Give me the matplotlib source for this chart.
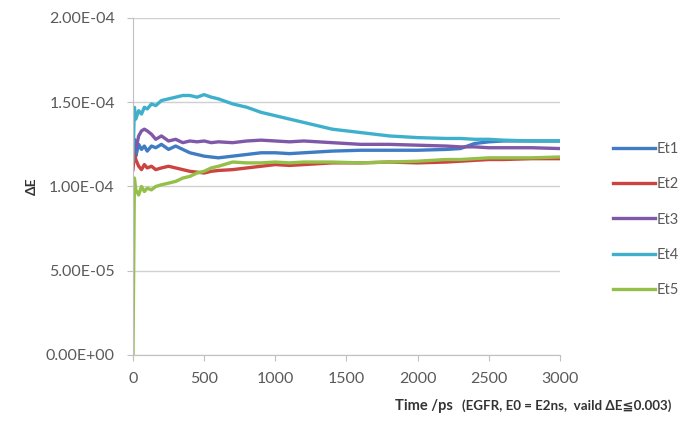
import matplotlib
matplotlib.use("Agg")
import matplotlib.pyplot as plt
from matplotlib.ticker import FuncFormatter

plt.rcParams['font.family'] = ['Lato', 'DejaVu Sans', 'Noto Sans CJK JP']

# time axis (ps) and the five energy-difference series (units of 1e-4)
time_ps = [0, 10, 20, 40, 60, 80, 100, 130, 160, 200, 250, 300, 350, 400, 450,
           500, 550, 600, 700, 800, 900, 1000, 1100, 1200, 1400, 1600, 1800,
           2000, 2200, 2300, 2400, 2500, 2600, 2800, 3000]

et1 = [1.15, 1.22, 1.18, 1.25, 1.22, 1.24, 1.21, 1.24, 1.23, 1.25, 1.22, 1.24,
       1.22, 1.20, 1.19, 1.18, 1.175, 1.17, 1.18, 1.19, 1.20, 1.20, 1.195, 1.20,
       1.21, 1.215, 1.215, 1.215, 1.22, 1.225, 1.255, 1.265, 1.27, 1.27, 1.27]
et2 = [1.10, 1.20, 1.16, 1.12, 1.10, 1.13, 1.11, 1.12, 1.10, 1.11, 1.12, 1.11,
       1.10, 1.09, 1.085, 1.08, 1.09, 1.095, 1.10, 1.11, 1.12, 1.13, 1.125, 1.13,
       1.14, 1.14, 1.145, 1.14, 1.145, 1.15, 1.155, 1.16, 1.16, 1.165, 1.165]
et3 = [1.20, 1.28, 1.22, 1.30, 1.33, 1.34, 1.33, 1.31, 1.28, 1.30, 1.27, 1.28,
       1.26, 1.27, 1.265, 1.27, 1.26, 1.265, 1.26, 1.27, 1.275, 1.27, 1.265, 1.27,
       1.26, 1.25, 1.25, 1.245, 1.24, 1.235, 1.235, 1.23, 1.23, 1.23, 1.225]
et4 = [1.15, 1.47, 1.40, 1.45, 1.43, 1.47, 1.46, 1.49, 1.48, 1.51, 1.52, 1.53,
       1.54, 1.54, 1.53, 1.545, 1.53, 1.52, 1.49, 1.47, 1.44, 1.42, 1.40, 1.38,
       1.34, 1.32, 1.30, 1.29, 1.285, 1.285, 1.28, 1.28, 1.275, 1.27, 1.27]
et5 = [0.0, 1.05, 0.98, 0.95, 1.00, 0.97, 0.99, 0.98, 1.00, 1.01, 1.02, 1.03,
       1.05, 1.06, 1.08, 1.09, 1.11, 1.12, 1.145, 1.14, 1.14, 1.145, 1.14, 1.145,
       1.145, 1.14, 1.145, 1.15, 1.16, 1.16, 1.165, 1.17, 1.17, 1.17, 1.175]

series = [("Et1", et1, "#3f7cc4"), ("Et2", et2, "#cc4440"),
          ("Et3", et3, "#8058a8"), ("Et4", et4, "#3fb0cc"),
          ("Et5", et5, "#94bf48")]

fig = plt.figure(figsize=(6.84, 4.28), dpi=100)
ax = fig.add_axes([0.1944, 0.1706, 0.6243, 0.7874])

for name, vals, col in series:
    ax.plot(time_ps, [v * 1e-4 for v in vals], color=col, lw=2.4, label=name,
            solid_joinstyle='round')

ax.set_xlim(0, 3000)
ax.set_ylim(0, 2e-4)
ax.set_xticks(range(0, 3001, 500))
ax.set_yticks([0, 5e-5, 1e-4, 1.5e-4, 2e-4])
ax.yaxis.set_major_formatter(FuncFormatter(lambda v, p: f"{v:.2E}"))
ax.grid(axis='y', color='#d0d0d0', lw=1)
ax.set_axisbelow(True)
for s in ['top', 'right']:
    ax.spines[s].set_visible(False)
for s in ['left', 'bottom']:
    ax.spines[s].set_color('#c0c0c0')
ax.tick_params(colors='#c0c0c0', labelcolor='#5a5a5a', labelsize=11.5, length=4)
ax.tick_params(axis='x', pad=8)
ax.tick_params(axis='y', pad=9)

ax.set_ylabel("ΔE", fontsize=10, fontweight='bold', color='#333333', labelpad=6)
fig.text(0.578, 0.042, "Time /ps", fontsize=10.5, fontweight='bold',
         color='#333333')
fig.text(0.676, 0.042, "(EGFR, E0 = E2ns,  vaild ΔE≦0.003)", fontsize=9.6,
         fontweight='bold', color='#333333')

fig.legend(loc='center left', bbox_to_anchor=(0.877, 0.487), frameon=False,
           fontsize=10.5, handlelength=2.9, handletextpad=0.1,
           labelspacing=1.45, labelcolor='#595959')

fig.savefig("out.png", dpi=100)
